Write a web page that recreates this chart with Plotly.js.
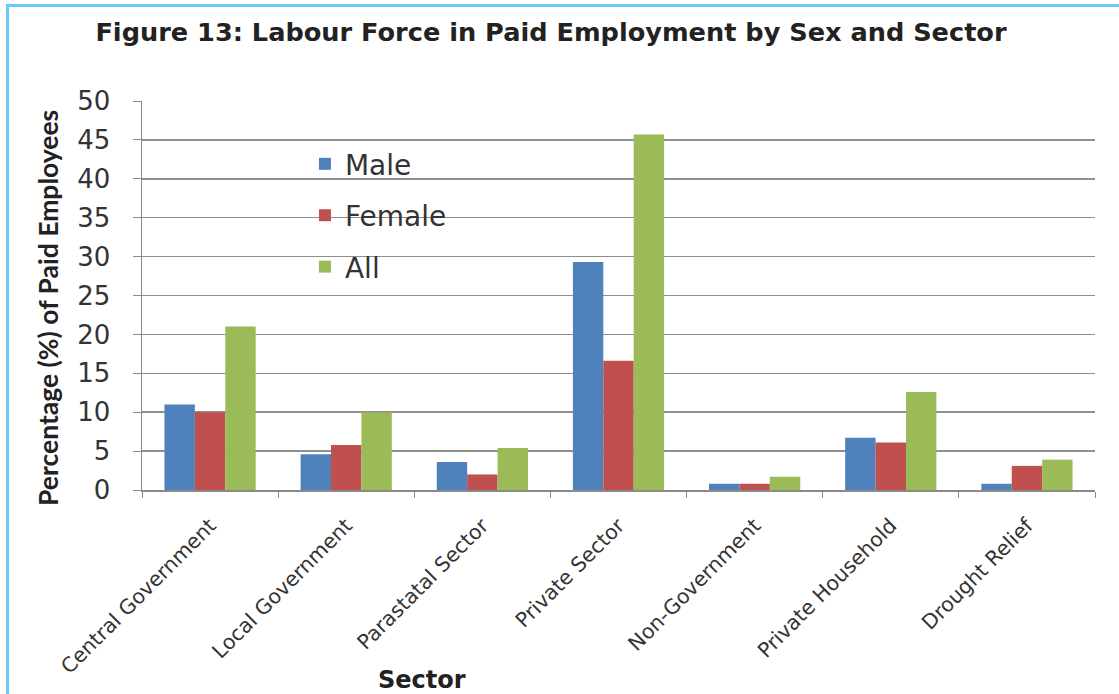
<!DOCTYPE html>
<html>
<head>
<meta charset="utf-8">
<script src="https://cdn.plot.ly/plotly-3.0.1.min.js"></script>
<style>
  html, body { margin: 0; padding: 0; background: #fff; }
  #wrap { position: relative; width: 1119px; height: 694px; overflow: hidden; }
  #chart { position: absolute; left: 0; top: 0; width: 1119px; height: 694px; }
  #frame { position: absolute; left: 6px; top: 4px; width: 1200px; height: 800px;
           border-top: 3px solid #66ccf5; border-left: 3px solid #66ccf5; pointer-events: none; }
</style>
</head>
<body>
<div id="wrap">
  <div id="chart"></div>
  <div id="frame"></div>
</div>
<script>
const sectors = ["Central Government", "Local Government", "Parastatal Sector", "Private Sector",
                 "Non-Government", "Private Household", "Drought Relief"];
const male   = [11.0, 4.6, 3.6, 29.3, 0.8, 6.7, 0.8];
const female = [10.0, 5.8, 2.0, 16.6, 0.8, 6.1, 3.1];
const all    = [21.0, 10.0, 5.4, 45.7, 1.7, 12.6, 3.9];
const yTicks = [0, 5, 10, 15, 20, 25, 30, 35, 40, 45, 50];

const FONT = "'DejaVu Sans', sans-serif";
const FONT2 = "Lato, 'DejaVu Sans', sans-serif";

const traces = [
  {name: "Male", y: male, color: "#4f81bd"},
  {name: "Female", y: female, color: "#c0504d"},
  {name: "All", y: all, color: "#9bbb59"}
].map((s, i) => ({
  type: "bar", x: sectors, y: s.y, name: s.name,
  legendgroup: "g" + i,
  marker: {color: s.color, line: {width: 0}},
  hoverinfo: "x+y+name"
}));

const layout = {
  width: 1119, height: 694,
  margin: {l: 142, r: 24, t: 101, b: 204, pad: 0},
  paper_bgcolor: "#ffffff", plot_bgcolor: "#ffffff",
  font: {family: FONT, color: "#333333"},
  barmode: "group", bargap: 0.33, bargroupgap: 0,
  title: {
    text: "<b>Figure 13: Labour Force in Paid Employment by Sex and Sector</b>",
    font: {family: FONT, size: 25.6, color: "#222222"},
    x: 0.4924, xref: "container", xanchor: "center",
    y: 0.954, yref: "container", yanchor: "middle"
  },
  xaxis: {
    type: "category", tickangle: -45, tickson: "boundaries",
    ticks: "outside", ticklen: 6, tickcolor: "#8a8a8a",
    showline: true, linecolor: "#8a8a8a", linewidth: 1.5,
    showgrid: false, ticklabelstandoff: 14,
    tickfont: {family: FONT, size: 20.5, color: "#333333"}
  },
  yaxis: {
    range: [0, 50], tickvals: yTicks, ticktext: yTicks.map(String),
    ticks: "outside", ticklen: 8, tickcolor: "#8a8a8a",
    showline: true, linecolor: "#8a8a8a", linewidth: 1.5,
    showgrid: true, gridcolor: "#8f8f8f", gridwidth: 1.5,
    zeroline: false, ticklabelstandoff: 17,
    tickfont: {family: FONT, size: 26, color: "#333333"}
  },
  legend: {
    x: 0.171, y: 0.902, xanchor: "left", yanchor: "top",
    bgcolor: "rgba(0,0,0,0)", borderwidth: 0,
    font: {family: FONT, size: 28, color: "#333333"},
    traceorder: "grouped", tracegroupgap: 12
  },
  annotations: [
    {text: "<b>Percentage (%) of Paid Employees</b>", xref: "paper", yref: "paper",
     x: -0.0986, y: 0.468, textangle: -90, showarrow: false,
     xanchor: "center", yanchor: "middle",
     font: {family: FONT2, size: 26.5, color: "#222222"}},
    {text: "<b>Sector</b>", xref: "paper", yref: "paper",
     x: 0.294, y: -0.488, showarrow: false, xanchor: "center", yanchor: "middle",
     font: {family: FONT, size: 24, color: "#222222"}}
  ]
};

Plotly.newPlot("chart", traces, layout, {displayModeBar: false, staticPlot: true});
</script>
</body>
</html>
